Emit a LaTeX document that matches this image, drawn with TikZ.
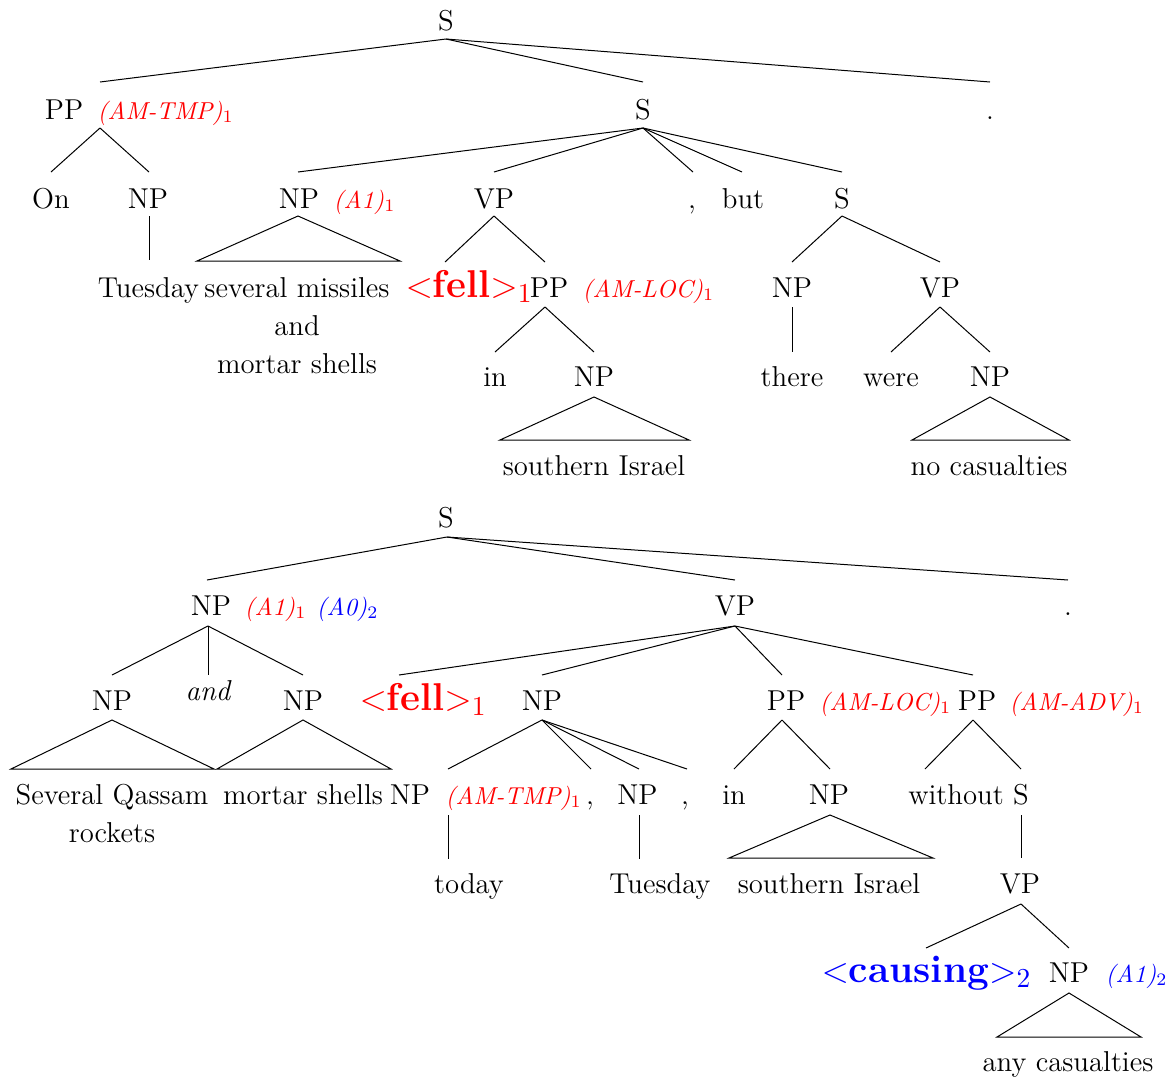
\documentclass[tikz,border=0pt]{standalone}
\usepackage{xcolor}
\begin{document}
\begin{tikzpicture}[x=0.4pt,y=-0.4pt,
  t/.style={inner sep=0pt, anchor=base, font=\fontsize{11.5}{15.2}\selectfont},
  tml/.style={t, align=center},
  lab/.style={inner sep=0pt, anchor=base west, font=\fontsize{9.8}{12}\selectfont\itshape, text=red},
  labb/.style={lab, text=blue},
  pred/.style={inner sep=0pt, anchor=base west, font=\fontsize{15.5}{18}\selectfont, text=red},
  predb/.style={pred, text=blue},
  br/.style={line width=0.4pt}]
\useasboundingbox (0,0) rectangle (1168,1081);
% ---------------- top tree: text ----------------
\node[t] (S0) at (446,30) {S};
\node[t] (PP1) at (64,119) {PP};
\node[lab] (PP1l) at (97,119) {(AM-TMP)$_1$};
\node[t] (S1) at (643,119) {S};
\node[t] (D1) at (990,119) {.};
\node[t] (On) at (51,208) {On};
\node[t] (NP1) at (148,208) {NP};
\node[t] (NP2) at (299,208) {NP};
\node[lab] (NP2l) at (333,208) {(A1)$_1$};
\node[t] (VP1) at (494,208) {VP};
\node[t] (C1) at (692,208) {,};
\node[t] (But) at (743,208) {but};
\node[t] (S2) at (842,208) {S};
\node[t] (Tue1) at (148.5,297) {Tuesday};
\node[tml] (Mis) at (297,373) {several missiles\\and\\mortar shells};
\node[pred] (Fell1) at (405,297) {$<$\textbf{fell}$>_1$};
\node[t] (PP2) at (549,297) {PP};
\node[lab] (PP2l) at (582,297) {(AM-LOC)$_1$};
\node[t] (NP4) at (792,297) {NP};
\node[t] (VP2) at (940,297) {VP};
\node[t] (In1) at (495,386) {in};
\node[t] (NP3) at (594,386) {NP};
\node[t] (There) at (792,386) {there};
\node[t] (Were) at (891,386) {were};
\node[t] (NP5) at (990,386) {NP};
\node[t] (SI1) at (594,475) {southern Israel};
\node[t] (NoC) at (989,475) {no casualties};
% ---------------- top tree: attach points ----------------
\coordinate (S0b) at (446,39);
\coordinate (PP1t) at (100,82);  \coordinate (PP1b) at (100,128);
\coordinate (S1t) at (643,82);   \coordinate (S1b) at (643,128);
\coordinate (D1t) at (990,82);
\coordinate (Ont) at (51,172);
\coordinate (NP1t) at (149,172); \coordinate (NP1b) at (149,216); \coordinate (Tue1t) at (149,260);
\coordinate (NP2t) at (298,172); \coordinate (NP2b) at (298,216);
\coordinate (NP2L) at (197,261); \coordinate (NP2R) at (400,261);
\coordinate (VP1t) at (494,172); \coordinate (VP1b) at (494,216);
\coordinate (C1t) at (693,172);  \coordinate (Butt) at (742,172);
\coordinate (S2t) at (842,172);  \coordinate (S2b) at (842,216);
\coordinate (Fell1t) at (445,262);
\coordinate (PP2t) at (545,262); \coordinate (PP2b) at (545,307);
\coordinate (In1t) at (495,352);
\coordinate (NP3t) at (594,352); \coordinate (NP3b) at (594,397);
\coordinate (NP3L) at (500,440); \coordinate (NP3R) at (689,440);
\coordinate (NP4t) at (792,262); \coordinate (NP4b) at (792,307); \coordinate (Theret) at (792,352);
\coordinate (VP2t) at (940,262); \coordinate (VP2b) at (940,307);
\coordinate (Weret) at (891,352);
\coordinate (NP5t) at (990,352); \coordinate (NP5b) at (990,397);
\coordinate (NP5L) at (912,440); \coordinate (NP5R) at (1069,440);
% ---------------- top tree: branches ----------------
\draw[br] (S0b) -- (PP1t);
\draw[br] (S0b) -- (S1t);
\draw[br] (S0b) -- (D1t);
\draw[br] (PP1b) -- (Ont);
\draw[br] (PP1b) -- (NP1t);
\draw[br] (NP1b) -- (Tue1t);
\draw[br] (S1b) -- (NP2t);
\draw[br] (S1b) -- (VP1t);
\draw[br] (S1b) -- (C1t);
\draw[br] (S1b) -- (Butt);
\draw[br] (S1b) -- (S2t);
\draw[br] (NP2b) -- (NP2L) -- (NP2R) -- cycle;
\draw[br] (VP1b) -- (Fell1t);
\draw[br] (VP1b) -- (PP2t);
\draw[br] (PP2b) -- (In1t);
\draw[br] (PP2b) -- (NP3t);
\draw[br] (NP3b) -- (NP3L) -- (NP3R) -- cycle;
\draw[br] (S2b) -- (NP4t);
\draw[br] (S2b) -- (VP2t);
\draw[br] (NP4b) -- (Theret);
\draw[br] (VP2b) -- (Weret);
\draw[br] (VP2b) -- (NP5t);
\draw[br] (NP5b) -- (NP5L) -- (NP5R) -- cycle;
% ---------------- bottom tree: text ----------------
\node[t] (S3) at (446,527) {S};
\node[t] (NP6) at (211,615) {NP};
\node[lab] (NP6l) at (244,615) {(A1)$_1$};
\node[labb] (NP6m) at (316,615) {(A0)$_2$};
\node[t] (VP3) at (735,615) {VP};
\node[t] (D2) at (1068,615) {.};
\node[t] (NP7) at (112,710) {NP};
\node[t, font=\fontsize{11.5}{15.2}\selectfont\itshape] (And) at (208,700) {and};
\node[t] (NP8) at (303,710) {NP};
\node[pred] (Fell2) at (359,710) {$<$\textbf{fell}$>_1$};
\node[t] (NP9) at (542,710) {NP};
\node[t] (PP3) at (786,710) {PP};
\node[lab] (PP3l) at (819,710) {(AM-LOC)$_1$};
\node[t] (PP4) at (977,710) {PP};
\node[lab] (PP4l) at (1009,710) {(AM-ADV)$_1$};
\node[tml] (SQR) at (112,842) {Several Qassam\\rockets};
\node[t] (MS) at (303,804) {mortar shells};
\node[t] (NP10) at (410,804) {NP};
\node[lab] (NP10l) at (445,804) {(AM-TMP)$_1$};
\node[t] (C2) at (590,804) {,};
\node[t] (NP11) at (637.5,804) {NP};
\node[t] (C3) at (685,804) {,};
\node[t] (In2) at (734,804) {in};
\node[t] (NP12) at (829,804) {NP};
\node[t] (With) at (956,804) {without};
\node[t] (S4) at (1021,804) {S};
\node[t] (Today) at (469,893) {today};
\node[t] (Tue2) at (660,893) {Tuesday};
\node[t] (SI2) at (829,893) {southern Israel};
\node[t] (VP4) at (1020,893) {VP};
\node[predb] (Caus) at (821,982) {$<$\textbf{causing}$>_2$};
\node[t] (NP13) at (1069,982) {NP};
\node[labb] (NP13l) at (1105,982) {(A1)$_2$};
\node[t] (AnyC) at (1068,1071) {any casualties};
% ---------------- bottom tree: attach points ----------------
\coordinate (S3b) at (447,537);
\coordinate (NP6t) at (207,580); \coordinate (NP6b) at (208,626);
\coordinate (VP3t) at (735,580); \coordinate (VP3b) at (735,626);
\coordinate (D2t) at (1068,580);
\coordinate (NP7t) at (112,675); \coordinate (NP7b) at (112,720);
\coordinate (NP7L) at (11,769);  \coordinate (NP7R) at (214,769);
\coordinate (Andt) at (208,675);
\coordinate (NP8t) at (303,675); \coordinate (NP8b) at (303,720);
\coordinate (NP8L) at (217,769); \coordinate (NP8R) at (391,769);
\coordinate (Fell2t) at (399,675);
\coordinate (NP9t) at (542,675); \coordinate (NP9b) at (542,720);
\coordinate (NP10t) at (448,769); \coordinate (NP10b) at (448,815); \coordinate (Todayt) at (448,859);
\coordinate (C2t) at (591,769);
\coordinate (NP11t) at (639,769); \coordinate (NP11b) at (639,815); \coordinate (Tue2t) at (639,859);
\coordinate (C3t) at (687,769);
\coordinate (PP3t) at (782,675); \coordinate (PP3b) at (782,720);
\coordinate (In2t) at (734,769);
\coordinate (NP12t) at (830,769); \coordinate (NP12b) at (830,815);
\coordinate (NP12L) at (729,858); \coordinate (NP12R) at (933,858);
\coordinate (PP4t) at (973,675); \coordinate (PP4b) at (973,720);
\coordinate (Witht) at (925,769);
\coordinate (S4t) at (1021,769); \coordinate (S4b) at (1021,815);
\coordinate (VP4t) at (1021,858); \coordinate (VP4b) at (1021,904);
\coordinate (Caust) at (926,948);
\coordinate (NP13t) at (1069,948); \coordinate (NP13b) at (1069,993);
\coordinate (NP13L) at (997,1037); \coordinate (NP13R) at (1141,1037);
% ---------------- bottom tree: branches ----------------
\draw[br] (S3b) -- (NP6t);
\draw[br] (S3b) -- (VP3t);
\draw[br] (S3b) -- (D2t);
\draw[br] (NP6b) -- (NP7t);
\draw[br] (NP6b) -- (Andt);
\draw[br] (NP6b) -- (NP8t);
\draw[br] (NP7b) -- (NP7L) -- (NP7R) -- cycle;
\draw[br] (NP8b) -- (NP8L) -- (NP8R) -- cycle;
\draw[br] (VP3b) -- (Fell2t);
\draw[br] (VP3b) -- (NP9t);
\draw[br] (VP3b) -- (PP3t);
\draw[br] (VP3b) -- (PP4t);
\draw[br] (NP9b) -- (NP10t);
\draw[br] (NP9b) -- (C2t);
\draw[br] (NP9b) -- (NP11t);
\draw[br] (NP9b) -- (C3t);
\draw[br] (NP10b) -- (Todayt);
\draw[br] (NP11b) -- (Tue2t);
\draw[br] (PP3b) -- (In2t);
\draw[br] (PP3b) -- (NP12t);
\draw[br] (NP12b) -- (NP12L) -- (NP12R) -- cycle;
\draw[br] (PP4b) -- (Witht);
\draw[br] (PP4b) -- (S4t);
\draw[br] (S4b) -- (VP4t);
\draw[br] (VP4b) -- (Caust);
\draw[br] (VP4b) -- (NP13t);
\draw[br] (NP13b) -- (NP13L) -- (NP13R) -- cycle;
\end{tikzpicture}
\end{document}
